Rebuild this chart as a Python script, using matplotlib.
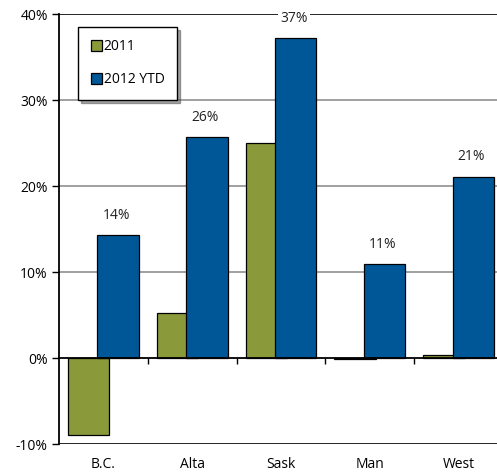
import matplotlib.pyplot as plt
import numpy as np

plt.rcParams['font.family'] = ['Open Sans', 'DejaVu Sans']

regions = ["B.C.", "Alta", "Sask", "Man", "West"]
growth_2011 = [-8.9, 5.2, 25.0, -0.15, 0.3]
growth_2012 = [14.3, 25.7, 37.2, 10.9, 21.1]
labels_2012 = ["14%", "26%", "37%", "11%", "21%"]
yticks = [-10, 0, 10, 20, 30, 40]

green = '#8A9A3B'
blue = '#005797'

fig = plt.figure(figsize=(4.97, 4.74), dpi=100)
ax = fig.add_axes([59 / 497, 1 - 444 / 474, 444 / 497, 430 / 474])

x = np.arange(len(regions))
w = 0.466
off = 0.165
ax.bar(x - off, growth_2011, width=w, color=green, edgecolor='black', linewidth=0.9,
       label='2011', zorder=3)
ax.bar(x + off, growth_2012, width=w, color=blue, edgecolor='black', linewidth=0.9,
       label='2012 YTD', zorder=4)

for xi, v, t in zip(x, growth_2012, labels_2012):
    ax.text(xi + off - 0.02, v + 2.3, t, ha='center', va='center', fontsize=10,
            color='#222222', zorder=6,
            bbox=dict(facecolor='white', edgecolor='none', pad=1.5))

ax.set_xlim(-0.5, len(regions) - 0.5)
ax.set_ylim(-10, 40)

# gridlines
for yv in yticks:
    if yv in (-10, 40):
        ax.axhline(yv, color='black', lw=1.2, zorder=2)
    elif yv != 0:
        ax.axhline(yv, color='#999999', lw=1.3, zorder=1)

ax.set_yticks(yticks)
ax.set_yticklabels([f"{v}%" for v in yticks], fontsize=10)
ax.tick_params(axis='y', length=5, width=1, pad=3)

# category axis sits at zero
ax.spines['bottom'].set_position(('data', 0))
ax.spines['bottom'].set_zorder(5)
ax.spines['bottom'].set_linewidth(1.3)
ax.spines['top'].set_visible(False)
ax.spines['right'].set_visible(False)
ax.spines['left'].set_linewidth(1.3)
ax.set_xticks(np.arange(0.5, len(regions) - 0.5, 1))
ax.set_xticklabels([])
ax.tick_params(axis='x', direction='out', length=4, width=1)
for xi, r in zip(x, regions):
    ax.text(xi, -0.047, r, transform=ax.get_xaxis_transform(), ha='center',
            va='center', fontsize=10)

leg = ax.legend(loc='upper left', bbox_to_anchor=(0.043, 0.97), fontsize=10,
                frameon=True, fancybox=False, shadow=True, handlelength=0.8,
                handleheight=0.8, handletextpad=0.15, labelspacing=1.3,
                borderpad=0.9, borderaxespad=0)
leg.get_frame().set_edgecolor('black')
leg.get_frame().set_linewidth(1.0)
leg.set_zorder(10)

fig.savefig('out.png', dpi=100)
